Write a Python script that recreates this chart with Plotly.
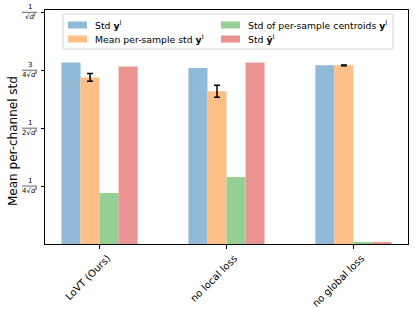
import plotly.graph_objects as go

# ---- data ----
categories = ["LoVT (Ours)", "no local loss", "no global loss"]
std_y = [0.783, 0.760, 0.771]
mean_per_sample_std = [0.719, 0.659, 0.771]
mean_per_sample_err = [0.017, 0.026, 0.002]
std_centroids = [0.220, 0.289, 0.005]
std_y_tilde = [0.766, 0.783, 0.009]
ytick_vals = [0.25, 0.5, 0.75, 1.0]
ytick_num = ["1", "1", "3", "1"]
ytick_den = ["4√<i>d</i><sup>I</sup>", "2√<i>d</i><sup>I</sup>", "4√<i>d</i><sup>I</sup>", "√<i>d</i><sup>I</sup>"]
series_names = ["Std <b>y</b><sup>I</sup>", "Mean per-sample std <b>y</b><sup>I</sup>",
                "Std of per-sample centroids <b>y</b><sup>I</sup>", "Std <b>ỹ</b><sup>I</sup>"]
colors = ["#8fbbd9", "#ffbf86", "#95cf95", "#ea9393"]

W, H = 415, 309
L, R, T, B = 45, 7, 10, 65
pw, ph = W - L - R, H - T - B
FONT = "DejaVu Sans"

def px(x):
    return (x - L) / pw

def py(y):
    return (H - B - y) / ph

xs = list(range(len(categories)))
bw = 0.15
fig = go.Figure()
series = [std_y, mean_per_sample_std, std_centroids, std_y_tilde]
for i, vals in enumerate(series):
    kw = {}
    if i == 1:
        kw["error_y"] = dict(type="data", array=mean_per_sample_err, visible=True,
                             color="black", thickness=1.5, width=3)
    fig.add_trace(go.Bar(x=xs, y=vals, width=bw, offset=-2 * bw + i * bw,
                         marker=dict(color=colors[i], line=dict(width=0)),
                         showlegend=False, **kw))

fig.update_layout(
    width=W, height=H, margin=dict(l=L, r=R, t=T, b=B, autoexpand=False),
    plot_bgcolor="white", paper_bgcolor="white", barmode="overlay",
    font=dict(family=FONT, color="black"),
    xaxis=dict(range=[-0.43, 2.43], tickvals=xs, ticktext=categories, tickangle=-45,
               tickfont=dict(size=10, family=FONT), showline=True, mirror=True,
               linecolor="black", linewidth=1, ticks="outside", ticklen=3.5,
               tickcolor="black", showgrid=False, zeroline=False, ticklabelshift=8,
               automargin=False),
    yaxis=dict(range=[0, 1.01], tickvals=ytick_vals, ticktext=[""] * 4,
               showline=True, mirror=True, linecolor="black", linewidth=1,
               ticks="outside", ticklen=3.5, tickcolor="black", showgrid=False,
               zeroline=False, automargin=False),
)

# y tick fraction labels
for v, n, d in zip(ytick_vals, ytick_num, ytick_den):
    fig.add_annotation(x=px(29.5), y=v, xref="paper", yref="y", text=n, showarrow=False,
                       font=dict(size=7, family=FONT), yshift=5, xanchor="center", yanchor="middle")
    fig.add_annotation(x=px(29.5), y=v, xref="paper", yref="y", text=d, showarrow=False,
                       font=dict(size=7, family=FONT), yshift=-4, xanchor="center", yanchor="middle")
    fig.add_shape(type="line", xref="paper", yref="y", x0=px(22), x1=px(37), y0=v, y1=v,
                  line=dict(color="black", width=0.6))

# y axis label
fig.add_annotation(x=px(13), y=py(141), xref="paper", yref="paper", text="Mean per-channel std",
                   showarrow=False, textangle=-90, font=dict(size=12, family=FONT),
                   xanchor="center", yanchor="middle")

# legend (drawn manually, matplotlib-style)
fig.add_shape(type="rect", xref="paper", yref="paper", x0=px(63), x1=px(393), y0=py(14), y1=py(49),
              line=dict(color="#d6d6d6", width=1), fillcolor="rgba(255,255,255,0.8)")
leg_pos = [(68, 25), (68, 39), (221, 25), (221, 39)]
for (lx, ly), name, c in zip(leg_pos, series_names, colors):
    fig.add_shape(type="rect", xref="paper", yref="paper", x0=px(lx), x1=px(lx + 19),
                  y0=py(ly + 3.5), y1=py(ly - 3.5), line=dict(width=0), fillcolor=c)
    fig.add_annotation(x=px(lx + 25), y=py(ly), xref="paper", yref="paper", text=name,
                       showarrow=False, font=dict(size=9.3, family=FONT),
                       xanchor="left", yanchor="middle")

fig.write_html("out.html", post_script="document.body.style.margin='0px';",
               config={"displayModeBar": False})
